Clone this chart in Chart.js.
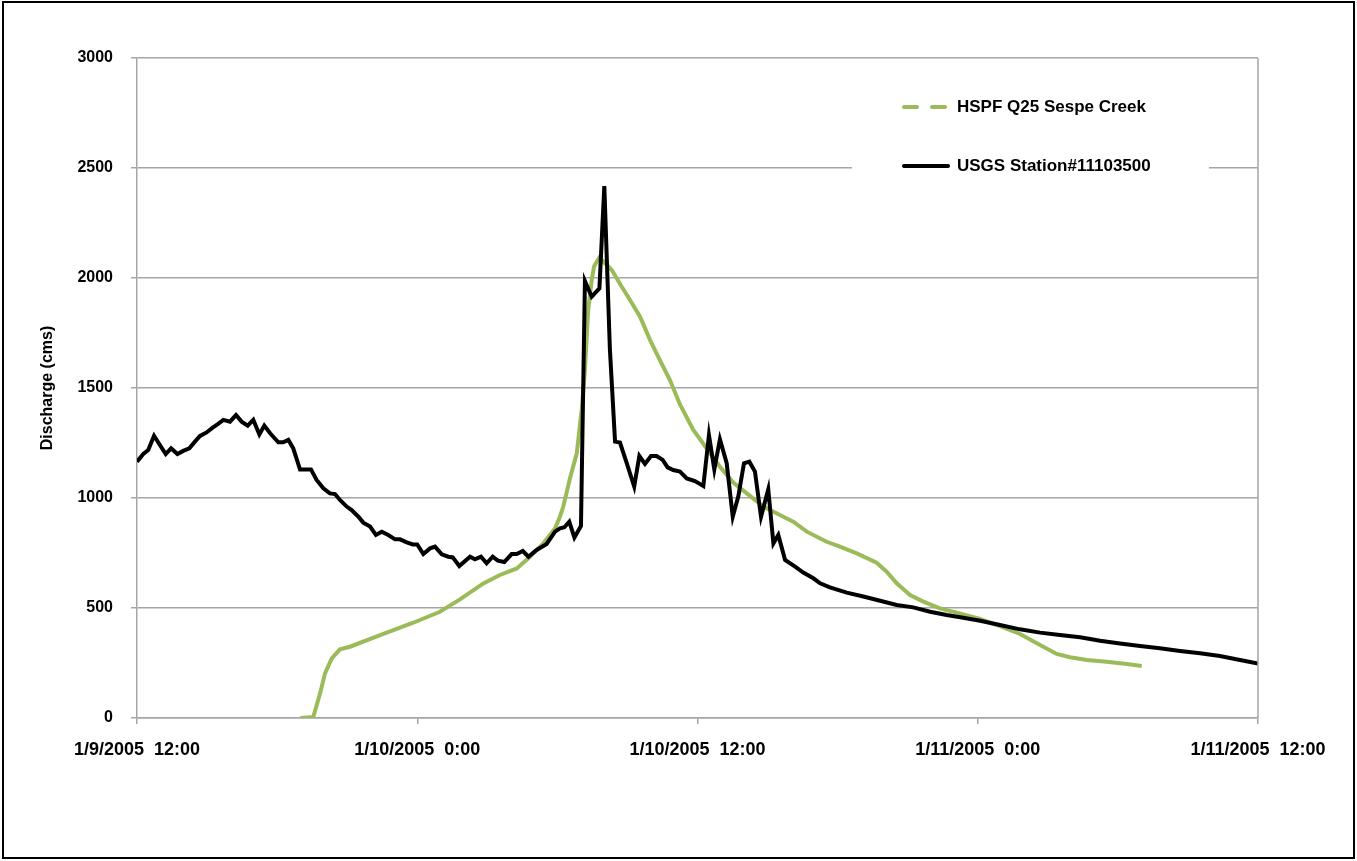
<!DOCTYPE html>
<html>
<head>
<meta charset="utf-8">
<title>Discharge - Sespe Creek</title>
<script src="https://cdn.jsdelivr.net/npm/chart.js@4.4.1/dist/chart.umd.min.js"></script>
<style>
  html, body { margin: 0; padding: 0; background: #ffffff; }
  #wrap { width: 1357px; height: 861px; }
</style>
</head>
<body>
<div id="wrap"><canvas id="chart-discharge" width="1357" height="861"></canvas></div>
<script>
// hours after 1/9/2005 12:00
const xTickLabels = ["1/9/2005  12:00", "1/10/2005  0:00", "1/10/2005  12:00", "1/11/2005  0:00", "1/11/2005  12:00"];
const yTicks = [0, 500, 1000, 1500, 2000, 2500, 3000];

const usgsHours = [
    0, 0.27, 0.48, 0.73, 0.98, 1.23, 1.46, 1.73, 1.98, 2.24, 2.48, 2.70, 2.98, 3.24, 3.46, 3.70,
    3.98, 4.24, 4.48, 4.74, 4.98, 5.24, 5.45, 5.70, 6.05, 6.26, 6.48, 6.69, 6.98, 7.45, 7.69, 7.98,
    8.26, 8.48, 8.69, 8.98, 9.19, 9.48, 9.69, 9.98, 10.23, 10.48, 10.76, 11.05, 11.26, 11.55, 11.81, 12.00,
    12.26, 12.55, 12.76, 13.05, 13.33, 13.52, 13.80, 14.26, 14.47, 14.73, 14.97, 15.23, 15.45, 15.73,
    16.04, 16.26, 16.52, 16.76, 17.11, 17.40, 17.54, 17.90, 18.11, 18.30, 18.51, 18.73, 19.01, 19.18,
    19.47, 19.80, 20.01, 20.25, 20.47, 20.68, 20.97, 21.29, 21.51, 21.75, 22.01, 22.25, 22.51, 22.72,
    22.96, 23.25, 23.54, 23.89, 24.25, 24.49, 24.72, 24.96, 25.25, 25.51, 25.75, 25.99, 26.22, 26.46,
    26.72, 27.03, 27.25, 27.46, 27.75, 28.18, 28.53, 28.96, 29.25, 29.67, 30.39, 31.10, 31.82, 32.53,
    33.24, 33.96, 34.67, 35.38, 36.10, 36.95, 37.81, 38.67, 39.52, 40.38, 41.24, 42.09, 42.95, 43.80,
    44.66, 45.52, 46.37, 47.23, 48.00
];
const usgsFlow = [
    1165, 1200, 1218, 1283, 1241, 1200, 1226, 1200, 1214, 1226, 1256, 1282, 1298, 1320, 1336, 1355,
    1347, 1377, 1347, 1329, 1355, 1289, 1329, 1294, 1253, 1253, 1264, 1226, 1130, 1130, 1082, 1044,
    1021, 1018, 991, 961, 945, 915, 888, 870, 832, 847, 832, 812, 812, 798, 789, 789,
    745, 771, 779, 744, 733, 730, 691, 733, 721, 733, 703, 733, 715, 709,
    745, 745, 759, 733, 764, 782, 791, 847, 862, 867, 892, 820, 873, 1986,
    1915, 1953, 2418, 1673, 1256, 1252, 1158, 1052, 1191, 1155, 1191, 1191, 1173, 1139,
    1127, 1120, 1089, 1077, 1055, 1286, 1130, 1267, 1158, 915, 1009, 1158, 1165, 1120,
    915, 1039, 794, 832, 718, 688, 661, 635, 612, 594, 570, 552, 533, 514,
    503, 483, 468, 456, 442, 423, 403, 388, 377, 367, 351, 339, 327, 317,
    305, 294, 282, 264, 248
];

const hspfHours = [
    7.00, 7.55, 7.84, 8.05, 8.34, 8.69, 9.12, 10.41, 11.83, 12.97, 13.83, 14.83, 15.54, 16.26, 16.83,
    17.40, 17.90, 18.11, 18.25, 18.54, 18.83, 19.04, 19.18, 19.32, 19.47, 19.57, 19.80, 20.04, 20.33,
    20.75, 21.11, 21.54, 21.97, 22.39, 22.82, 23.25, 23.82, 24.39, 24.96, 25.53, 26.11, 26.82, 27.53,
    28.10, 28.68, 29.53, 30.10, 30.82, 31.67, 32.10, 32.53, 33.10, 33.67, 34.38, 35.10, 36.10, 36.95,
    37.81, 38.67, 39.38, 39.95, 40.67, 41.52, 42.38, 43.02
];
const hspfFlow = [
    0, 5, 112, 203, 271, 312, 324, 377, 433, 483, 539, 612, 650, 680, 733,
    794, 862, 915, 960, 1090, 1203, 1400, 1582, 1855, 1991, 2052, 2094, 2067, 2036,
    1961, 1900, 1824, 1718, 1627, 1536, 1425, 1309, 1226, 1142, 1070, 1021, 961, 923,
    892, 847, 801, 779, 748, 706, 665, 612, 559, 529, 498, 479, 450, 418,
    382, 332, 291, 276, 264, 256, 245, 236
];

const seriesNames = ["HSPF Q25 Sespe Creek", "USGS Station#11103500"];
const GREEN = "#9bbb59";
const GRID = "#a6a6a6";
const FONT = "'Liberation Sans', Arial, sans-serif";

const toPoints = (xs, ys) => xs.map((x, i) => ({ x: x, y: ys[i] }));

const frameAndLegend = {
    id: "frameAndLegend",
    afterDraw(chart) {
        const ctx = chart.ctx;
        const area = chart.chartArea;
        ctx.save();

        // right edge of plot area
        ctx.strokeStyle = GRID;
        ctx.lineWidth = 1.5;
        ctx.beginPath();
        ctx.moveTo(area.right, area.top);
        ctx.lineTo(area.right, area.bottom);
        ctx.stroke();

        // legend box over the grid
        ctx.fillStyle = "#ffffff";
        ctx.fillRect(852, 84, 357, 100);

        ctx.lineWidth = 4;
        ctx.lineCap = "round";
        ctx.strokeStyle = GREEN;
        ctx.setLineDash([13, 15]);
        ctx.beginPath();
        ctx.moveTo(904, 107);
        ctx.lineTo(948, 107);
        ctx.stroke();

        ctx.setLineDash([]);
        ctx.strokeStyle = "#000000";
        ctx.beginPath();
        ctx.moveTo(904, 166);
        ctx.lineTo(948, 166);
        ctx.stroke();

        ctx.fillStyle = "#000000";
        ctx.font = "bold 17px " + FONT;
        ctx.textBaseline = "middle";
        ctx.textAlign = "left";
        ctx.fillText(seriesNames[0], 957, 107);
        ctx.fillText(seriesNames[1], 957, 166);

        // outer frame
        ctx.strokeStyle = "#000000";
        ctx.lineWidth = 2;
        ctx.strokeRect(3, 2, 1351, 856);
        ctx.restore();
    }
};

const ctx = document.getElementById("chart-discharge").getContext("2d");

new Chart(ctx, {
    type: "line",
    data: {
        datasets: [
            {
                label: seriesNames[1],
                data: toPoints(usgsHours, usgsFlow),
                borderColor: "#000000",
                borderWidth: 4,
                pointRadius: 0,
                tension: 0,
                order: 0
            },
            {
                label: seriesNames[0],
                data: toPoints(hspfHours, hspfFlow),
                borderColor: GREEN,
                borderWidth: 4,
                pointRadius: 0,
                tension: 0,
                order: 1
            }
        ]
    },
    options: {
        responsive: false,
        animation: false,
        devicePixelRatio: 1,
        layout: { padding: { left: 10, top: 58, right: 99, bottom: 10 } },
        plugins: {
            legend: { display: false },
            tooltip: { enabled: false }
        },
        scales: {
            x: {
                type: "linear",
                min: 0,
                max: 48,
                afterFit: scale => { scale.height = 133; },
                afterBuildTicks: scale => {
                    scale.ticks = xTickLabels.map((_, i) => ({ value: i * 12 }));
                },
                grid: {
                    drawOnChartArea: false,
                    drawTicks: true,
                    tickLength: 6,
                    color: GRID,
                    lineWidth: 1.5
                },
                border: { color: GRID, width: 1.5 },
                ticks: {
                    autoSkip: false,
                    maxRotation: 0,
                    padding: 15,
                    color: "#000000",
                    font: { family: FONT, size: 18, weight: "bold" },
                    callback: value => xTickLabels[Math.round(value / 12)]
                }
            },
            y: {
                min: 0,
                max: 3000,
                afterFit: scale => { scale.width = 127; },
                afterBuildTicks: scale => {
                    scale.ticks = yTicks.map(v => ({ value: v }));
                },
                grid: {
                    color: GRID,
                    lineWidth: 1.5,
                    tickLength: 6
                },
                border: { color: GRID, width: 1.5 },
                ticks: {
                    padding: 18,
                    color: "#000000",
                    font: { family: FONT, size: 16, weight: "bold" },
                    callback: value => String(value)
                },
                title: {
                    display: true,
                    text: "Discharge (cms)",
                    color: "#000000",
                    padding: { top: 28, bottom: 0 },
                    font: { family: FONT, size: 16, weight: "bold" }
                }
            }
        }
    },
    plugins: [frameAndLegend]
});
</script>
</body>
</html>
